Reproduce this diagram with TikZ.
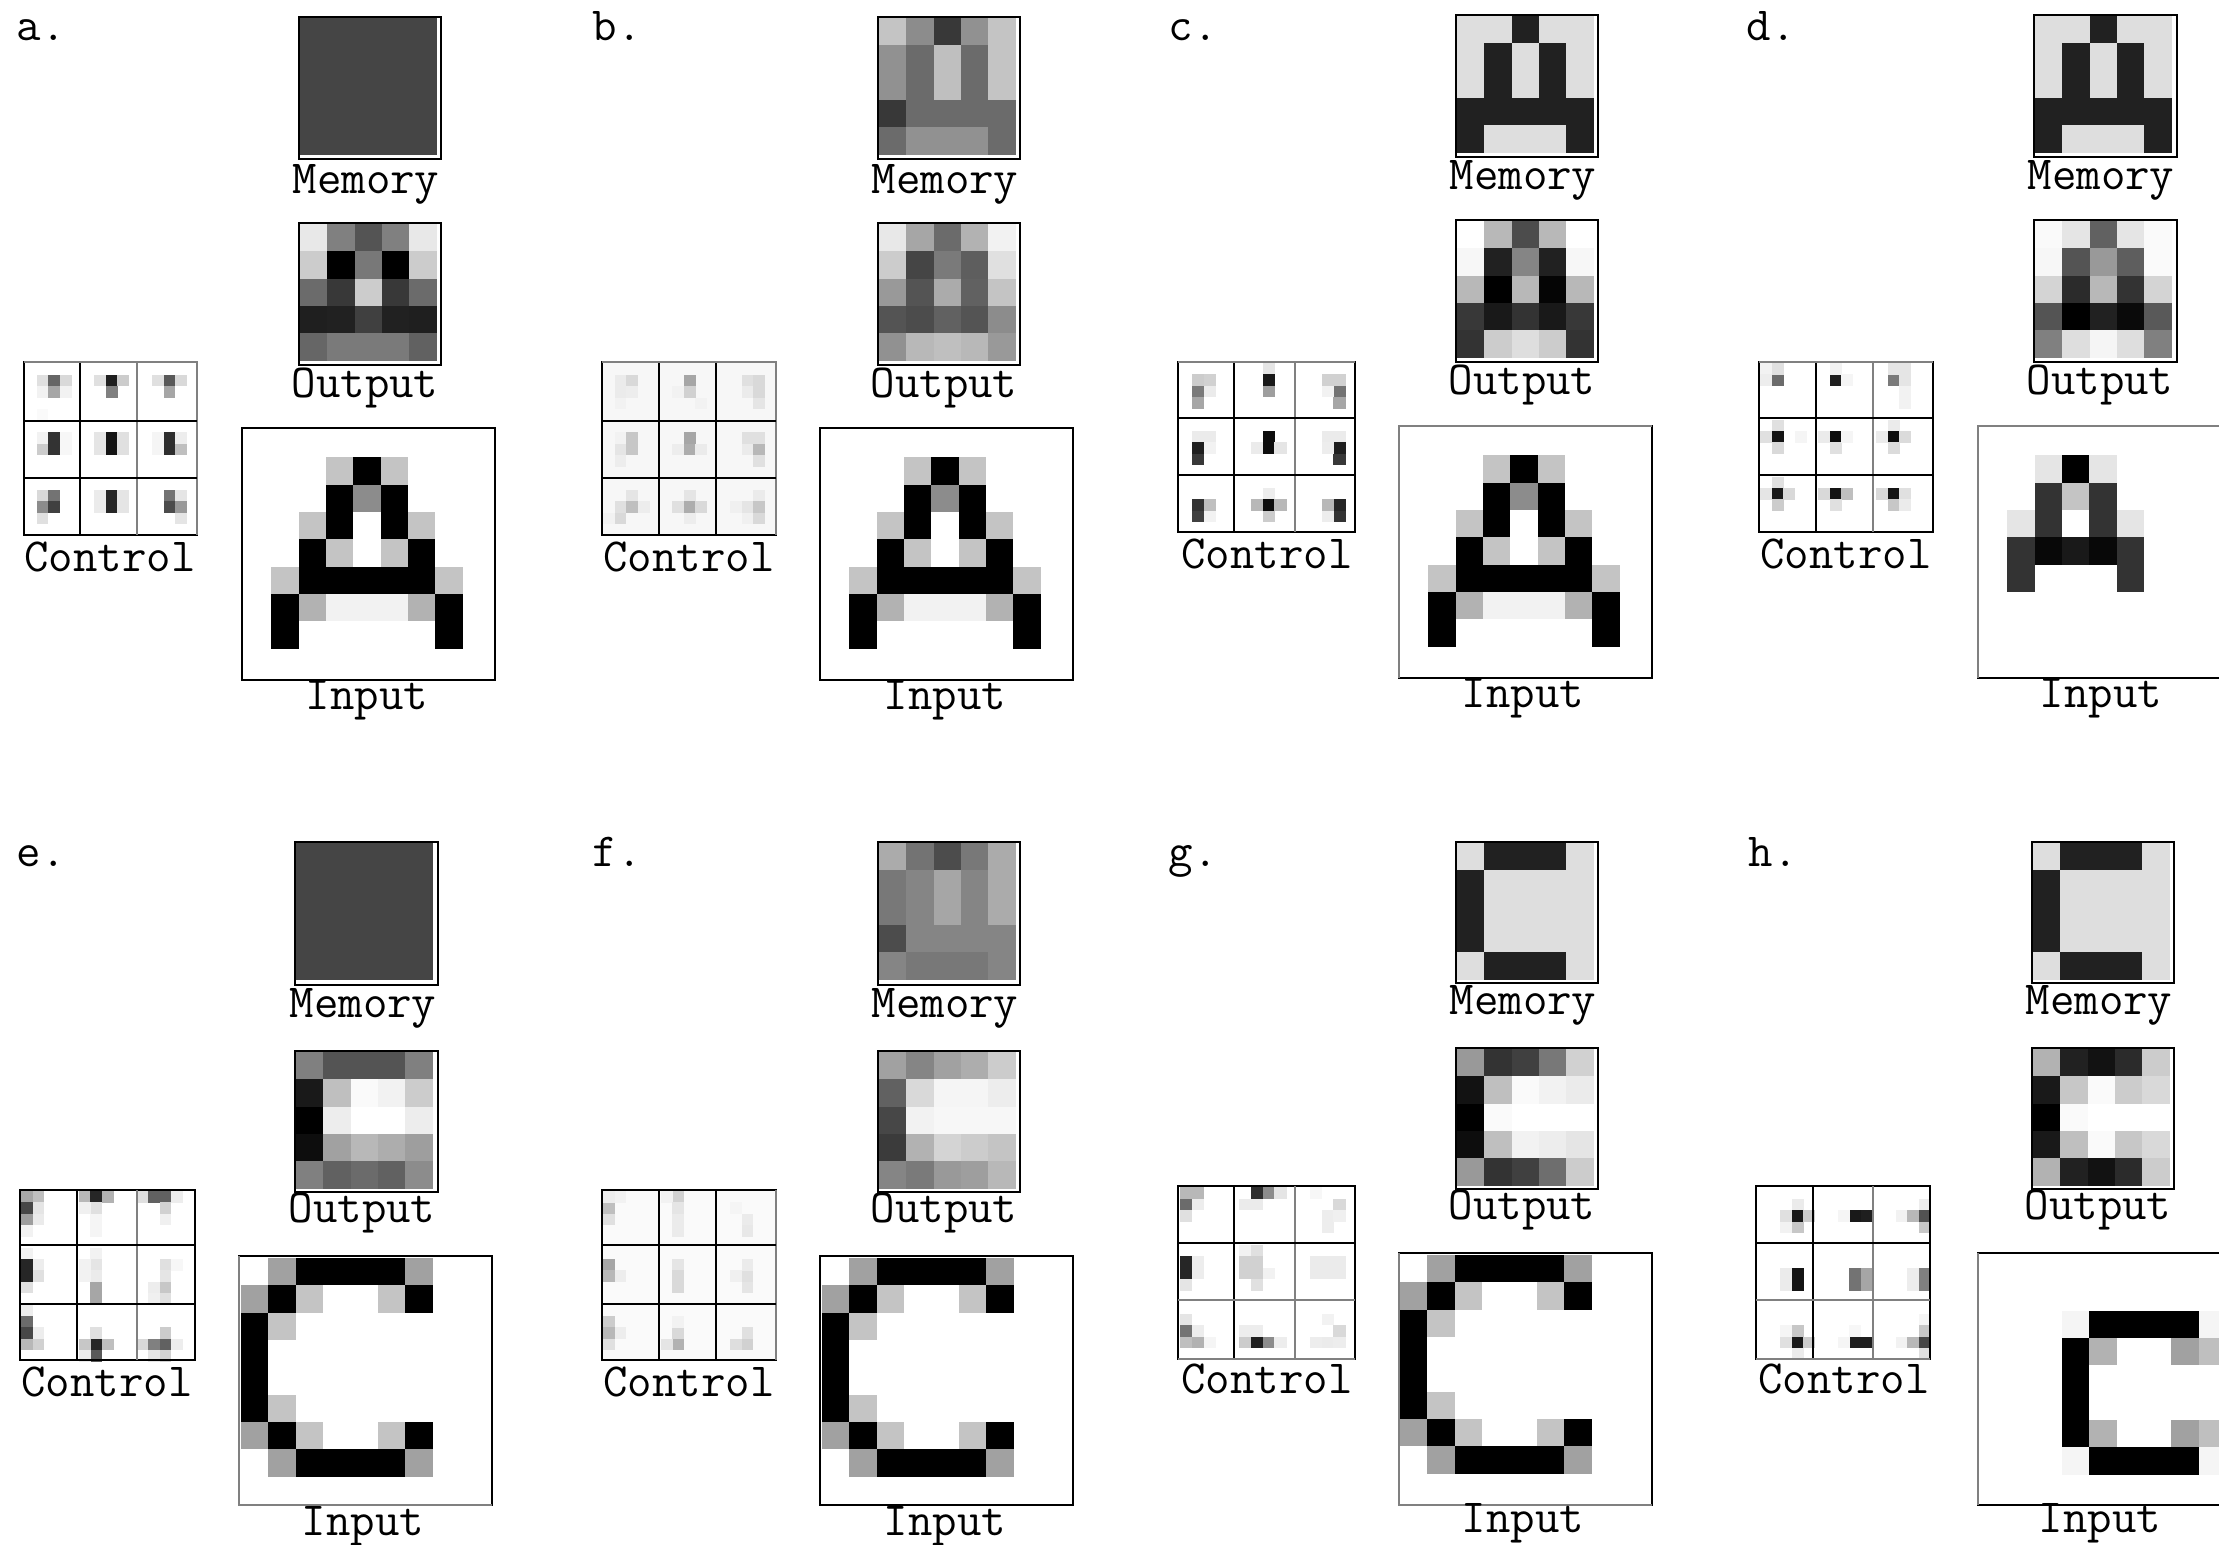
\documentclass[tikz,border=0pt]{standalone}
\usepackage{tikz}

\tikzset{
    boxline/.style={draw=black, line width=0.75pt},
    boxfaint/.style={draw=black!50, line width=0.75pt},
    ctrlline/.style={draw=black, line width=0.8pt},
    ctrlfaint/.style={draw=black!50, line width=0.8pt},
    caption/.style={anchor=base, inner sep=0pt, font=\fontsize{13.5}{13.5}\ttfamily},
    tag/.style={anchor=base west, inner sep=0pt, font=\fontsize{13.5}{13.5}\ttfamily}
}

\newcommand{\pixgrid}[3]{%
    \edef\pixrows{#3}%
    \foreach \pixrow [count=\j from 0] in \pixrows {
        \foreach \pixval [count=\i from 0] in \pixrow {
            \fill[white!\pixval!black] (#1+\i*27.3,#2+\j*27.3) rectangle ++(27.7,27.7);
        }
    }
}
\newcommand{\ctrlgrid}[6]{%
    \fill[white!#5!black] (#1,#2) rectangle ++(15*#3,15*#4);
    \foreach \kc/\kr/\kv in {#6} {
        \fill[white!\kv!black] (#1+\kc*#3,#2+\kr*#4) rectangle ++(#3+0.3,#4+0.3);
    }
}

\newcommand{\memflat}{{27,27,27,27,27},{27,27,27,27,27},{27,27,27,27,27},{27,27,27,27,27},{27,27,27,27,27}}
\newcommand{\memletterA}{{87,87,13,87,87},{87,13,87,13,87},{87,13,87,13,87},{13,13,13,13,13},{13,87,87,87,13}}
\newcommand{\memletterC}{{87,13,13,13,87},{13,87,87,87,87},{13,87,87,87,87},{13,87,87,87,87},{87,13,13,13,87}}
\newcommand{\inputAbig}{{100,100,77,0,77,100,100},{100,100,0,55,0,100,100},{100,77,0,100,0,77,100},{100,0,77,100,77,0,100},{77,0,0,0,0,0,77},{0,70,95,95,95,70,0},{0,100,100,100,100,100,0}}
\newcommand{\inputAsmall}{{100,90,0,90,100},{100,20,77,20,100},{90,20,100,20,90},{20,3,10,3,20},{20,100,100,100,20}}
\newcommand{\inputCbig}{{100,63,0,0,0,0,63},{63,0,77,100,100,77,0},{0,77,100,100,100,100,100},{0,100,100,100,100,100,100},{0,100,100,100,100,100,100},{0,77,100,100,100,100,100},{63,0,77,100,100,77,0},{100,63,0,0,0,0,63}}
\newcommand{\inputCsmall}{{96,0,0,0,0,96},{0,70,100,100,63,75},{0,100,100,100,100,100},{0,100,100,100,100,100},{0,70,100,100,63,75},{96,0,0,0,0,96}}

\begin{document}
\begin{tikzpicture}[x=0.01cm,y=-0.01cm]
        \useasboundingbox (0,0) rectangle (2219,1544);
        \clip (0,0) rectangle (2219,1544);
        \fill[white] (0,0) rectangle (2219,1544);

        \node[tag] (tagA) at (16,40) {a.};
        \pixgrid{300}{18}{\memflat}
        \draw[boxline] (299,17) rectangle (441,159);
        \node[caption] (memoryA) at (366,193) {Memory};
        \pixgrid{300}{224}{{91,50,33,50,91},{80,0,47,0,80},{42,22,80,22,42},{12,13,25,13,12},{40,48,48,48,38}}
        \draw[boxline] (299,223) rectangle (441,365);
        \node[caption] (outputA) at (365,397) {Output};
        \ctrlgrid{25}{363}{11.55}{11.5}{100}{2/1/40,1/1/88,3/1/85,2/2/65,1/2/95,3/2/95,1/4/98,7/1/12,6/1/88,8/1/80,7/2/50,12/1/35,11/1/88,13/1/85,12/2/65,2/6/20,2/7/20,1/7/80,1/6/95,3/6/97,3/7/97,7/6/8,7/7/8,6/6/90,6/7/90,8/6/88,8/7/88,12/6/18,12/7/18,13/7/75,13/6/93,11/6/96,11/7/96,2/11/45,2/12/25,1/12/55,1/13/88,1/11/85,7/11/15,7/12/15,6/11/92,6/12/92,8/11/90,8/12/90,12/11/45,12/12/30,13/12/60,13/11/90,13/13/90}
        \draw[ctrlline] (24,362) rectangle (197,535);
        \draw[ctrlline] (80,362) -- (80,535);
        \draw[ctrlfaint] (137,362) -- (137,535);
        \draw[ctrlfaint] (24,362) -| (197,535);
        \draw[ctrlline] (24,421) -- (197,421);
        \draw[ctrlline] (24,478) -- (197,478);
        \node[caption] (controlA) at (110,571) {Control};
        \pixgrid{271.3}{457.3}{\inputAbig}
        \draw[boxline] (242,428) rectangle (495,680);
        \node[caption] (inputA) at (367,709) {Input};

        \node[tag] (tagB) at (592,40) {b.};
        \pixgrid{879}{18}{{77,55,22,57,77},{57,42,75,42,77},{57,42,75,42,77},{22,42,42,42,42},{42,57,57,57,42}}
        \draw[boxline] (878,17) rectangle (1020,159);
        \node[caption] (memoryB) at (945,193) {Memory};
        \pixgrid{879}{224}{{91,65,42,70,95},{80,27,48,37,88},{60,33,67,38,77},{33,30,38,33,55},{57,72,75,72,60}}
        \draw[boxline] (878,223) rectangle (1020,365);
        \node[caption] (outputB) at (944,397) {Output};
        \ctrlgrid{603}{363}{11.55}{11.5}{97}{2/1/85,1/1/92,1/2/92,2/2/93,1/3/95,7/1/65,7/2/82,6/2/95,8/3/95,12/1/88,13/1/85,13/2/85,12/2/92,13/3/90,2/6/78,2/7/78,1/7/90,1/8/93,1/6/95,7/6/65,7/7/68,8/7/92,6/7/93,12/6/88,13/6/88,13/7/72,12/7/92,13/8/88,2/11/90,2/12/75,1/12/88,3/12/93,1/13/85,0/13/95,7/11/90,7/12/68,6/12/88,8/12/85,7/13/93,13/12/78,12/12/90,13/11/92,13/13/85,12/13/94,11/12/94}
        \draw[ctrlline] (602,362) rectangle (776,535);
        \draw[ctrlline] (659,362) -- (659,535);
        \draw[ctrlline] (716,362) -- (716,535);
        \draw[ctrlfaint] (602,362) -| (776,535);
        \draw[ctrlline] (602,421) -- (776,421);
        \draw[ctrlline] (602,478) -- (776,478);
        \node[caption] (controlB) at (689,571) {Control};
        \pixgrid{849.3}{457.3}{\inputAbig}
        \draw[boxline] (820,428) rectangle (1073,680);
        \node[caption] (inputB) at (945,709) {Input};

        \node[tag] (tagC) at (1168,40) {c.};
        \pixgrid{1457}{16}{\memletterA}
        \draw[boxline] (1456,15) rectangle (1598,157);
        \node[caption] (memoryC) at (1523,189) {Memory};
        \pixgrid{1457}{221}{{100,72,30,72,100},{97,13,52,13,97},{72,0,72,2,72},{22,10,20,10,22},{20,80,87,80,20}}
        \draw[boxline] (1456,220) rectangle (1598,362);
        \node[caption] (outputC) at (1522,394) {Output};
        \ctrlgrid{1180}{363}{11.8}{11.35}{100}{1/1/80,2/1/82,1/2/48,2/2/92,1/3/65,7/0/90,7/1/10,7/2/62,12/1/82,13/1/82,13/2/45,13/3/65,12/2/95,1/6/92,2/6/92,1/7/12,1/8/22,2/7/95,7/6/5,7/7/5,6/7/92,8/7/90,12/6/92,13/6/92,13/7/12,13/8/22,12/7/93,1/12/20,1/13/25,2/12/75,2/13/95,7/11/93,7/12/5,6/12/72,8/12/72,7/13/80,13/12/15,13/13/20,12/12/72,12/13/93}
        \draw[ctrlline] (1178,362) rectangle (1355,532);
        \draw[ctrlline] (1234,362) -- (1234,532);
        \draw[ctrlfaint] (1295,362) -- (1295,532);
        \draw[ctrlfaint] (1178,362) -- (1355,362);
        \draw[ctrlline] (1178,418) -- (1355,418);
        \draw[ctrlline] (1178,475) -- (1355,475);
        \node[caption] (controlC) at (1267,568) {Control};
        \pixgrid{1428.3}{455.3}{\inputAbig}
        \draw[boxline] (1399,426) rectangle (1652,678);
        \draw[boxfaint] (1399,678) |- (1652,426);
        \node[caption] (inputC) at (1523,707) {Input};

        \node[tag] (tagD) at (1746,40) {d.};
        \pixgrid{2035}{16}{\memletterA}
        \draw[boxline] (2034,15) rectangle (2177,157);
        \node[caption] (memoryD) at (2101,189) {Memory};
        \pixgrid{2035}{221}{{98,90,38,90,98},{97,33,60,37,98},{83,17,72,20,83},{33,0,13,4,35},{50,87,96,87,50}}
        \draw[boxline] (2034,220) rectangle (2177,362);
        \node[caption] (outputD) at (2100,394) {Output};
        \ctrlgrid{1760}{363}{11.6}{11.35}{100}{1/1/42,0/0/95,1/0/88,0/1/93,6/1/12,6/0/95,7/1/96,11/1/48,11/0/90,12/1/90,12/0/90,12/2/95,12/3/95,1/6/8,0/6/88,1/7/85,1/5/88,3/6/96,6/6/5,6/7/88,5/6/92,7/6/96,11/6/5,12/6/86,11/7/86,10/6/92,11/5/92,1/11/10,2/11/85,1/12/80,0/11/90,1/10/88,6/11/8,5/11/85,7/11/75,6/12/88,11/11/8,10/11/85,12/11/88,11/12/78,12/12/92}
        \draw[ctrlline] (1759,362) rectangle (1933,532);
        \draw[ctrlline] (1816,362) -- (1816,532);
        \draw[ctrlfaint] (1873,362) -- (1873,532);
        \draw[ctrlfaint] (1759,362) -- (1933,362);
        \draw[ctrlline] (1759,418) -- (1933,418);
        \draw[ctrlline] (1759,475) -- (1933,475);
        \node[caption] (controlD) at (1846,568) {Control};
        \pixgrid{2007.3}{455.3}{\inputAsmall}
        \draw[boxline] (1978,426) rectangle (2231,678);
        \draw[boxfaint] (1978,678) |- (2231,426);
        \node[caption] (inputD) at (2101,707) {Input};

        \node[tag] (tagE) at (16,866) {e.};
        \pixgrid{296}{843}{\memflat}
        \draw[boxline] (295,842) rectangle (438,985);
        \node[caption] (memoryE) at (363,1017) {Memory};
        \pixgrid{296}{1052}{{50,33,33,33,50},{10,75,98,95,80},{0,93,100,100,93},{5,63,72,68,62},{50,38,42,38,55}}
        \draw[boxline] (295,1051) rectangle (438,1192);
        \node[caption] (outputE) at (362,1222) {Output};
        \ctrlgrid{21}{1191}{11.55}{11.35}{100}{0/0/65,1/0/75,0/1/28,1/1/90,0/2/62,1/2/92,0/3/95,5/0/72,6/0/15,7/0/70,6/1/88,5/1/94,6/2/96,6/3/96,11/0/38,12/0/38,10/0/88,12/1/82,13/0/93,12/2/94,0/6/15,0/7/15,1/6/93,1/7/88,0/8/88,0/5/95,6/6/90,6/7/92,6/8/65,6/9/65,6/5/95,5/6/95,5/7/95,12/6/88,12/7/90,12/8/78,12/9/88,11/8/93,11/9/94,13/6/97,0/11/42,0/12/28,0/13/72,1/13/82,1/12/93,0/10/93,6/13/15,6/14/35,5/13/78,7/13/75,6/12/88,5/14/92,11/13/50,12/13/38,10/13/85,12/12/80,12/14/82,11/14/90,13/13/93}
        \draw[ctrlline] (20,1190) rectangle (195,1360);
        \draw[ctrlline] (77,1190) -- (77,1360);
        \draw[ctrlfaint] (137,1190) -- (137,1360);
        \draw[ctrlline] (20,1245) -- (195,1245);
        \draw[ctrlline] (20,1304) -- (195,1304);
        \node[caption] (controlE) at (107,1396) {Control};
        \pixgrid{241}{1258}{\inputCbig}
        \draw[boxline] (239,1256) rectangle (492,1505);
        \draw[boxfaint] (239,1256) -- (239,1505) -- (492,1505);
        \node[caption] (inputE) at (363,1535) {Input};

        \node[tag] (tagF) at (592,866) {f.};
        \pixgrid{879}{843}{{67,45,30,47,67},{47,52,65,52,67},{47,52,65,52,67},{30,52,52,52,52},{52,47,47,47,52}}
        \draw[boxline] (878,842) rectangle (1020,985);
        \node[caption] (memoryF) at (945,1017) {Memory};
        \pixgrid{879}{1052}{{63,52,63,68,80},{38,85,96,96,93},{28,95,97,97,97},{23,70,83,80,77},{52,48,60,62,72}}
        \draw[boxline] (878,1051) rectangle (1020,1192);
        \node[caption] (outputF) at (944,1222) {Output};
        \ctrlgrid{603}{1191}{11.55}{11.35}{98}{0/1/75,0/2/88,0/0/93,1/0/95,6/0/82,5/0/95,6/1/90,6/2/92,6/3/92,12/2/92,12/3/91,11/1/96,0/6/65,0/7/72,1/7/93,6/6/90,6/7/85,6/8/85,12/7/88,12/6/92,12/8/90,11/7/94,0/11/80,0/12/72,0/13/88,1/12/93,6/12/85,6/13/70,5/13/90,6/11/95,12/12/88,12/13/82,11/13/87}
        \draw[ctrlline] (602,1190) rectangle (776,1360);
        \draw[ctrlline] (659,1190) -- (659,1360);
        \draw[ctrlline] (716,1190) -- (716,1360);
        \draw[ctrlfaint] (776,1190) -- (776,1360);
        \draw[ctrlline] (602,1245) -- (776,1245);
        \draw[ctrlline] (602,1304) -- (776,1304);
        \node[caption] (controlF) at (689,1396) {Control};
        \pixgrid{822}{1258}{\inputCbig}
        \draw[boxline] (820,1256) rectangle (1073,1505);
        \node[caption] (inputF) at (945,1535) {Input};

        \node[tag] (tagG) at (1168,866) {g.};
        \pixgrid{1457}{843}{\memletterC}
        \draw[boxline] (1456,842) rectangle (1598,983);
        \node[caption] (memoryG) at (1523,1014) {Memory};
        \pixgrid{1457}{1049}{{60,20,25,47,82},{7,75,98,95,92},{0,98,100,100,100},{5,75,95,93,90},{60,20,25,43,80}}
        \draw[boxline] (1456,1048) rectangle (1598,1189);
        \node[caption] (outputG) at (1522,1219) {Output};
        \ctrlgrid{1180}{1187}{11.8}{11.5}{100}{0/0/72,1/0/72,0/1/42,1/1/93,0/2/88,6/0/18,7/0/55,5/1/92,6/1/92,8/0/90,13/1/85,12/2/93,12/3/93,13/2/94,11/0/97,0/6/15,0/7/15,1/6/93,1/7/93,0/8/90,5/6/82,6/6/82,5/7/82,6/7/82,6/8/88,5/5/95,6/5/88,7/7/95,11/6/92,12/6/92,13/6/92,11/7/92,12/7/92,13/7/92,0/11/90,0/12/45,0/13/75,1/13/70,1/12/93,2/13/96,6/13/12,7/13/55,5/13/80,5/12/93,6/12/93,8/13/93,13/12/85,12/11/95,12/13/92,11/13/93,13/13/93}
        \draw[ctrlline] (1178,1186) rectangle (1355,1359);
        \draw[ctrlline] (1234,1186) -- (1234,1359);
        \draw[ctrlfaint] (1295,1186) -- (1295,1359);
        \draw[ctrlfaint] (1178,1359) -- (1355,1359);
        \draw[ctrlline] (1178,1243) -- (1355,1243);
        \draw[ctrlfaint] (1178,1300) -- (1355,1300);
        \node[caption] (controlG) at (1267,1393) {Control};
        \pixgrid{1400}{1255}{\inputCbig}
        \draw[boxline] (1399,1253) rectangle (1652,1505);
        \draw[boxfaint] (1399,1253) -- (1399,1505) -- (1652,1505);
        \node[caption] (inputG) at (1523,1532) {Input};

        \node[tag] (tagH) at (1748,866) {h.};
        \pixgrid{2033}{843}{\memletterC}
        \draw[boxline] (2032,842) rectangle (2174,983);
        \node[caption] (memoryH) at (2099,1014) {Memory};
        \pixgrid{2033}{1049}{{70,13,7,17,80},{10,78,98,80,85},{0,98,100,100,100},{10,75,98,78,85},{70,13,7,17,80}}
        \draw[boxline] (2032,1048) rectangle (2174,1189);
        \node[caption] (outputH) at (2098,1219) {Output};
        \ctrlgrid{1757}{1187}{11.55}{11.5}{100}{3/2/10,2/2/88,4/2/80,3/1/92,3/3/78,2/3/95,8/2/10,9/2/12,7/2/96,14/2/32,13/2/72,12/2/95,14/3/78,14/1/93,3/7/8,3/8/8,2/7/92,2/8/92,8/7/45,8/8/45,9/7/65,9/8/65,14/7/50,14/8/50,13/7/93,13/8/93,3/13/10,2/13/88,4/13/80,3/12/78,3/14/92,2/12/96,8/13/12,9/13/12,7/13/96,8/12/97,14/13/28,13/13/72,12/13/95,14/12/78,14/14/88,14/11/96}
        \draw[ctrlline] (1756,1186) rectangle (1930,1359);
        \draw[ctrlline] (1813,1186) -- (1813,1359);
        \draw[ctrlfaint] (1873,1186) -- (1873,1359);
        \draw[ctrlfaint] (1756,1359) -- (1930,1359);
        \draw[ctrlline] (1756,1243) -- (1930,1243);
        \draw[ctrlfaint] (1756,1300) -- (1930,1300);
        \node[caption] (controlH) at (1844,1393) {Control};
        \pixgrid{2062}{1310.6}{\inputCsmall}
        \draw[boxline] (1978,1253) rectangle (2231,1505);
        \draw[boxfaint] (1978,1253) -- (1978,1505);
        \node[caption] (inputH) at (2100,1532) {Input};
    \end{tikzpicture}
\end{document}
